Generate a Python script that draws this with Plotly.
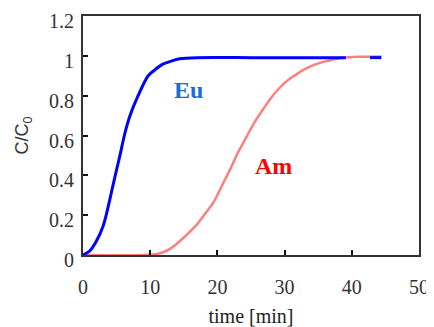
import plotly.graph_objects as go

# Eu breakthrough curve (gap reproduces the break seen in the original line)
eu_t = [0, 1, 2, 3, 3.45, 4, 4.8, 5.5, 6.15, 7, 8.2, 9.7, 11.9, 14.4, 17, 25, 39.1, None, 42.7, 44.4]
eu_c = [0, 0.02, 0.07, 0.146, 0.2, 0.28, 0.4, 0.5, 0.6, 0.7, 0.8, 0.9, 0.958, 0.985, 0.991, 0.991, 0.991, None, 0.991, 0.991]

# Am breakthrough curve
am_t = [0, 9, 11, 12, 13, 14, 15, 16, 17, 18, 19.4, 21, 21.9, 23, 24.4, 25.5, 26.8, 28, 29.3,
        30.5, 31.8, 33, 34.3, 35.5, 36.8, 38.7, 41, 44.4]
am_c = [0, 0, 0.005, 0.015, 0.032, 0.058, 0.088, 0.12, 0.155, 0.2, 0.263, 0.37, 0.43, 0.51, 0.598,
        0.665, 0.732, 0.79, 0.841, 0.878, 0.908, 0.933, 0.953, 0.967, 0.978, 0.99, 0.995, 0.997]

x_ticks = [0, 10, 20, 30, 40, 50]
y_ticks = [0, 0.2, 0.4, 0.6, 0.8, 1.0, 1.2]
y_tick_text = ["0", "0.2", "0.4", "0.6", "0.8", "1", "1.2"]

serif = "Liberation Serif, Times New Roman, serif"
sans = "Liberation Sans, Arial, sans-serif"

fig = go.Figure()
fig.add_trace(go.Scatter(x=am_t, y=am_c, mode="lines", name="Am",
                         line=dict(color="#ff7f7f", width=2.5, shape="spline", smoothing=0.6),
                         connectgaps=False))
fig.add_trace(go.Scatter(x=eu_t, y=eu_c, mode="lines", name="Eu",
                         line=dict(color="#0000ff", width=3, shape="spline", smoothing=0.6),
                         connectgaps=False))

fig.add_annotation(x=15.7, y=0.83, text="<b>Eu</b>", showarrow=False,
                   font=dict(family=serif, size=24, color="#1a6fd6"))
fig.add_annotation(x=28.4, y=0.447, text="<b>Am</b>", showarrow=False,
                   font=dict(family=serif, size=24, color="#ff0000"))

# the page body has an 8px margin, so the figure is sized to fit the window
fig.update_layout(
    width=426, height=319, autosize=False,
    margin=dict(l=75, r=15, t=8, b=72),
    paper_bgcolor="white", plot_bgcolor="white",
    showlegend=False,
    xaxis=dict(range=[0, 50], tickvals=x_ticks, ticks="inside", ticklen=5, tickwidth=1.5,
               tickcolor="#111", showline=True, mirror=True, linecolor="#333", linewidth=1.8,
               showgrid=False, zeroline=False, ticklabelstandoff=13, automargin=False,
               ticklabeloverflow="allow",
               tickfont=dict(family=serif, size=20, color="#333"),
               title=dict(text="time [min]", font=dict(family=serif, size=20, color="#222"),
                          standoff=16)),
    yaxis=dict(range=[0, 1.2], tickvals=y_ticks, ticktext=y_tick_text, ticks="inside",
               ticklen=5, tickwidth=1.5, tickcolor="#111", showline=True, mirror=True,
               linecolor="#333", linewidth=1.8, showgrid=False, zeroline=False,
               ticklabelstandoff=3, ticklabelshift=5, automargin=False,
               ticklabeloverflow="allow",
               tickfont=dict(family=serif, size=20, color="#333"),
               title=dict(text="C/C<sub>0</sub>", font=dict(family=sans, size=18, color="#333"),
                          standoff=16)),
)

fig.write_html("out.html")
